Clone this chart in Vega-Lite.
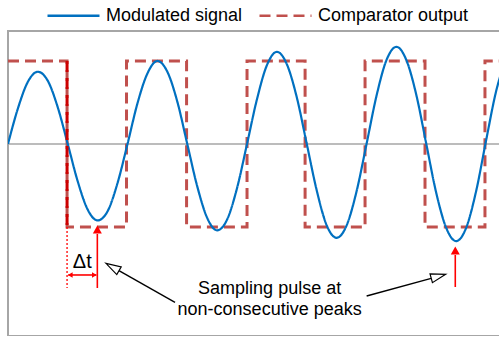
{
  "$schema": "https://vega.github.io/schema/vega-lite/v6.json",
  "width": 492,
  "height": 305,
  "autosize": {"type": "none"},
  "padding": {"left": 8, "top": 31, "right": 0, "bottom": 0},
  "config": {
    "view": {"stroke": "#A6A6A6", "strokeWidth": 2},
    "font": "Liberation Sans"
  },
  "datasets": {
    "sine": [
      {"x": 0, "y": 0, "series": "Modulated signal"},
      {"x": 1, "y": 0.43, "series": "Modulated signal"},
      {"x": 2, "y": 0.75, "series": "Modulated signal"},
      {"x": 3, "y": 0.87, "series": "Modulated signal"},
      {"x": 4, "y": 0.76, "series": "Modulated signal"},
      {"x": 5, "y": 0.44, "series": "Modulated signal"},
      {"x": 6, "y": 0, "series": "Modulated signal"},
      {"x": 7, "y": -0.45, "series": "Modulated signal"},
      {"x": 8, "y": -0.79, "series": "Modulated signal"},
      {"x": 9, "y": -0.92, "series": "Modulated signal"},
      {"x": 10, "y": -0.81, "series": "Modulated signal"},
      {"x": 11, "y": -0.47, "series": "Modulated signal"},
      {"x": 12, "y": 0, "series": "Modulated signal"},
      {"x": 13, "y": 0.49, "series": "Modulated signal"},
      {"x": 14, "y": 0.85, "series": "Modulated signal"},
      {"x": 15, "y": 1.0, "series": "Modulated signal"},
      {"x": 16, "y": 0.87, "series": "Modulated signal"},
      {"x": 17, "y": 0.51, "series": "Modulated signal"},
      {"x": 18, "y": 0, "series": "Modulated signal"},
      {"x": 19, "y": -0.51, "series": "Modulated signal"},
      {"x": 20, "y": -0.89, "series": "Modulated signal"},
      {"x": 21, "y": -1.04, "series": "Modulated signal"},
      {"x": 22, "y": -0.91, "series": "Modulated signal"},
      {"x": 23, "y": -0.53, "series": "Modulated signal"},
      {"x": 24, "y": 0, "series": "Modulated signal"},
      {"x": 25, "y": 0.54, "series": "Modulated signal"},
      {"x": 26, "y": 0.95, "series": "Modulated signal"},
      {"x": 27, "y": 1.11, "series": "Modulated signal"},
      {"x": 28, "y": 0.96, "series": "Modulated signal"},
      {"x": 29, "y": 0.56, "series": "Modulated signal"},
      {"x": 30, "y": 0, "series": "Modulated signal"},
      {"x": 31, "y": -0.56, "series": "Modulated signal"},
      {"x": 32, "y": -0.98, "series": "Modulated signal"},
      {"x": 33, "y": -1.13, "series": "Modulated signal"},
      {"x": 34, "y": -0.98, "series": "Modulated signal"},
      {"x": 35, "y": -0.57, "series": "Modulated signal"},
      {"x": 36, "y": 0, "series": "Modulated signal"},
      {"x": 37, "y": 0.58, "series": "Modulated signal"},
      {"x": 38, "y": 1.01, "series": "Modulated signal"},
      {"x": 39, "y": 1.17, "series": "Modulated signal"},
      {"x": 40, "y": 1.01, "series": "Modulated signal"},
      {"x": 41, "y": 0.59, "series": "Modulated signal"},
      {"x": 42, "y": 0, "series": "Modulated signal"},
      {"x": 43, "y": -0.59, "series": "Modulated signal"},
      {"x": 44, "y": -1.01, "series": "Modulated signal"},
      {"x": 45, "y": -1.17, "series": "Modulated signal"},
      {"x": 46, "y": -1.01, "series": "Modulated signal"},
      {"x": 47, "y": -0.57, "series": "Modulated signal"},
      {"x": 48, "y": 0.04, "series": "Modulated signal"},
      {"x": 49, "y": 0.63, "series": "Modulated signal"},
      {"x": 50, "y": 1.03, "series": "Modulated signal"}
    ],
    "square": [
      {"x": 0, "y": 1, "series": "Comparator output"},
      {"x": 5.93, "y": -1, "series": "Comparator output"},
      {"x": 11.9, "y": 1, "series": "Comparator output"},
      {"x": 17.93, "y": -1, "series": "Comparator output"},
      {"x": 24.0, "y": 1, "series": "Comparator output"},
      {"x": 29.83, "y": -1, "series": "Comparator output"},
      {"x": 35.85, "y": 1, "series": "Comparator output"},
      {"x": 41.87, "y": -1, "series": "Comparator output"},
      {"x": 47.89, "y": 1, "series": "Comparator output"},
      {"x": 50, "y": 1, "series": "Comparator output"}
    ],
    "zero": [{"x": 0, "x2": 50, "y": 0}],
    "darkEdge": [{"x": 5.93, "y": 1, "x2": 5.93, "y2": -1}],
    "dotted": [{"x": 5.93, "y": -1, "x2": 5.93, "y2": -1.735}],
    "redLines": [
      {"x": 8.97, "y": -1.735, "x2": 8.97, "y2": -1.084},
      {"x": 44.91, "y": -1.723, "x2": 44.91, "y2": -1.337},
      {"x": 6.05, "y": -1.578, "x2": 8.87, "y2": -1.578}
    ],
    "redHeads": [
      {"x": 8.97, "y": -1.03},
      {"x": 44.91, "y": -1.283}
    ],
    "leftHead": [{"x": 6.25, "y": -1.578}],
    "rightHead": [{"x": 8.67, "y": -1.578}],
    "blackLines": [
      {"x": 16.77, "y": -1.907, "x2": 11.14, "y2": -1.526},
      {"x": 36.01, "y": -1.831, "x2": 42.49, "y2": -1.618}
    ],
    "blackHead1": [{"x": 10.49, "y": -1.482}],
    "blackHead2": [{"x": 43.22, "y": -1.594}],
    "dt": [{"x": 7.46, "y": -1.494, "label": "Δt"}],
    "notes": [
      {"x": 26.27, "y": -1.807, "label": "Sampling pulse at"},
      {"x": 26.27, "y": -2.06, "label": "non-consecutive peaks"}
    ]
  },
  "encoding": {
    "x": {"field": "x", "type": "quantitative", "scale": {"domain": [0, 49.4], "nice": false, "zero": false}, "axis": null},
    "y": {"field": "y", "type": "quantitative", "scale": {"domain": [-2.313, 1.361], "nice": false, "zero": false}, "axis": null}
  },
  "layer": [
    {
      "data": {"name": "zero"},
      "mark": {"type": "rule", "color": "#A6A6A6", "strokeWidth": 1.6, "clip": true},
      "encoding": {"x2": {"field": "x2"}}
    },
    {
      "data": {"name": "square"},
      "mark": {"type": "line", "interpolate": "step-after", "strokeWidth": 3, "clip": true},
      "encoding": {
        "color": {"field": "series", "type": "nominal",
          "scale": {"domain": ["Modulated signal", "Comparator output"], "range": ["#0070C0", "#C0504D"]},
          "legend": {"orient": "none", "legendX": 38, "legendY": -43, "direction": "horizontal", "title": null,
            "symbolType": "stroke", "symbolSize": 2704, "symbolStrokeWidth": 2.5,
            "labelFontSize": 18, "labelFont": "Liberation Sans", "labelColor": "#000000",
            "labelOffset": 5, "columnPadding": 11, "padding": 0}},
        "strokeDash": {"field": "series", "type": "nominal",
          "scale": {"domain": ["Modulated signal", "Comparator output"], "range": [[1, 0], [11, 6]]}}
      }
    },
    {
      "data": {"name": "sine"},
      "mark": {"type": "line", "interpolate": "monotone", "strokeWidth": 2.2, "clip": true},
      "encoding": {
        "color": {"field": "series", "type": "nominal"},
        "strokeDash": {"field": "series", "type": "nominal"}
      }
    },
    {
      "data": {"name": "darkEdge"},
      "mark": {"type": "rule", "color": "#CC0000", "strokeWidth": 3, "strokeDash": [11, 6]},
      "encoding": {"x2": {"field": "x2"}, "y2": {"field": "y2"}}
    },
    {
      "data": {"name": "dotted"},
      "mark": {"type": "rule", "color": "#FF0000", "strokeWidth": 1.3, "strokeDash": [2, 2]},
      "encoding": {"x2": {"field": "x2"}, "y2": {"field": "y2"}}
    },
    {
      "data": {"name": "redLines"},
      "mark": {"type": "rule", "color": "#FF0000", "strokeWidth": 1.6},
      "encoding": {"x2": {"field": "x2"}, "y2": {"field": "y2"}}
    },
    {
      "data": {"name": "redHeads"},
      "mark": {"type": "point", "shape": "triangle-up", "size": 81, "filled": true, "color": "#FF0000", "opacity": 1}
    },
    {
      "data": {"name": "leftHead"},
      "mark": {"type": "point", "shape": "triangle-left", "size": 30, "filled": true, "color": "#FF0000", "opacity": 1}
    },
    {
      "data": {"name": "rightHead"},
      "mark": {"type": "point", "shape": "triangle-right", "size": 30, "filled": true, "color": "#FF0000", "opacity": 1}
    },
    {
      "data": {"name": "blackLines"},
      "mark": {"type": "rule", "color": "#000000", "strokeWidth": 1.4},
      "encoding": {"x2": {"field": "x2"}, "y2": {"field": "y2"}}
    },
    {
      "data": {"name": "blackHead1"},
      "mark": {"type": "point", "shape": "M0,-1L0.6,1L-0.6,1Z", "size": 225, "filled": true, "fill": "#FFFFFF", "stroke": "#000000", "strokeWidth": 1.2, "opacity": 1, "angle": -60.5}
    },
    {
      "data": {"name": "blackHead2"},
      "mark": {"type": "point", "shape": "M0,-1L0.6,1L-0.6,1Z", "size": 225, "filled": true, "fill": "#FFFFFF", "stroke": "#000000", "strokeWidth": 1.2, "opacity": 1, "angle": 74.6}
    },
    {
      "data": {"name": "dt"},
      "mark": {"type": "text", "font": "Liberation Sans", "fontSize": 20, "color": "#000000", "align": "center", "baseline": "alphabetic"},
      "encoding": {"text": {"field": "label"}}
    },
    {
      "data": {"name": "notes"},
      "mark": {"type": "text", "font": "Liberation Sans", "fontSize": 18, "color": "#000000", "align": "center", "baseline": "alphabetic"},
      "encoding": {"text": {"field": "label"}}
    }
  ]
}
